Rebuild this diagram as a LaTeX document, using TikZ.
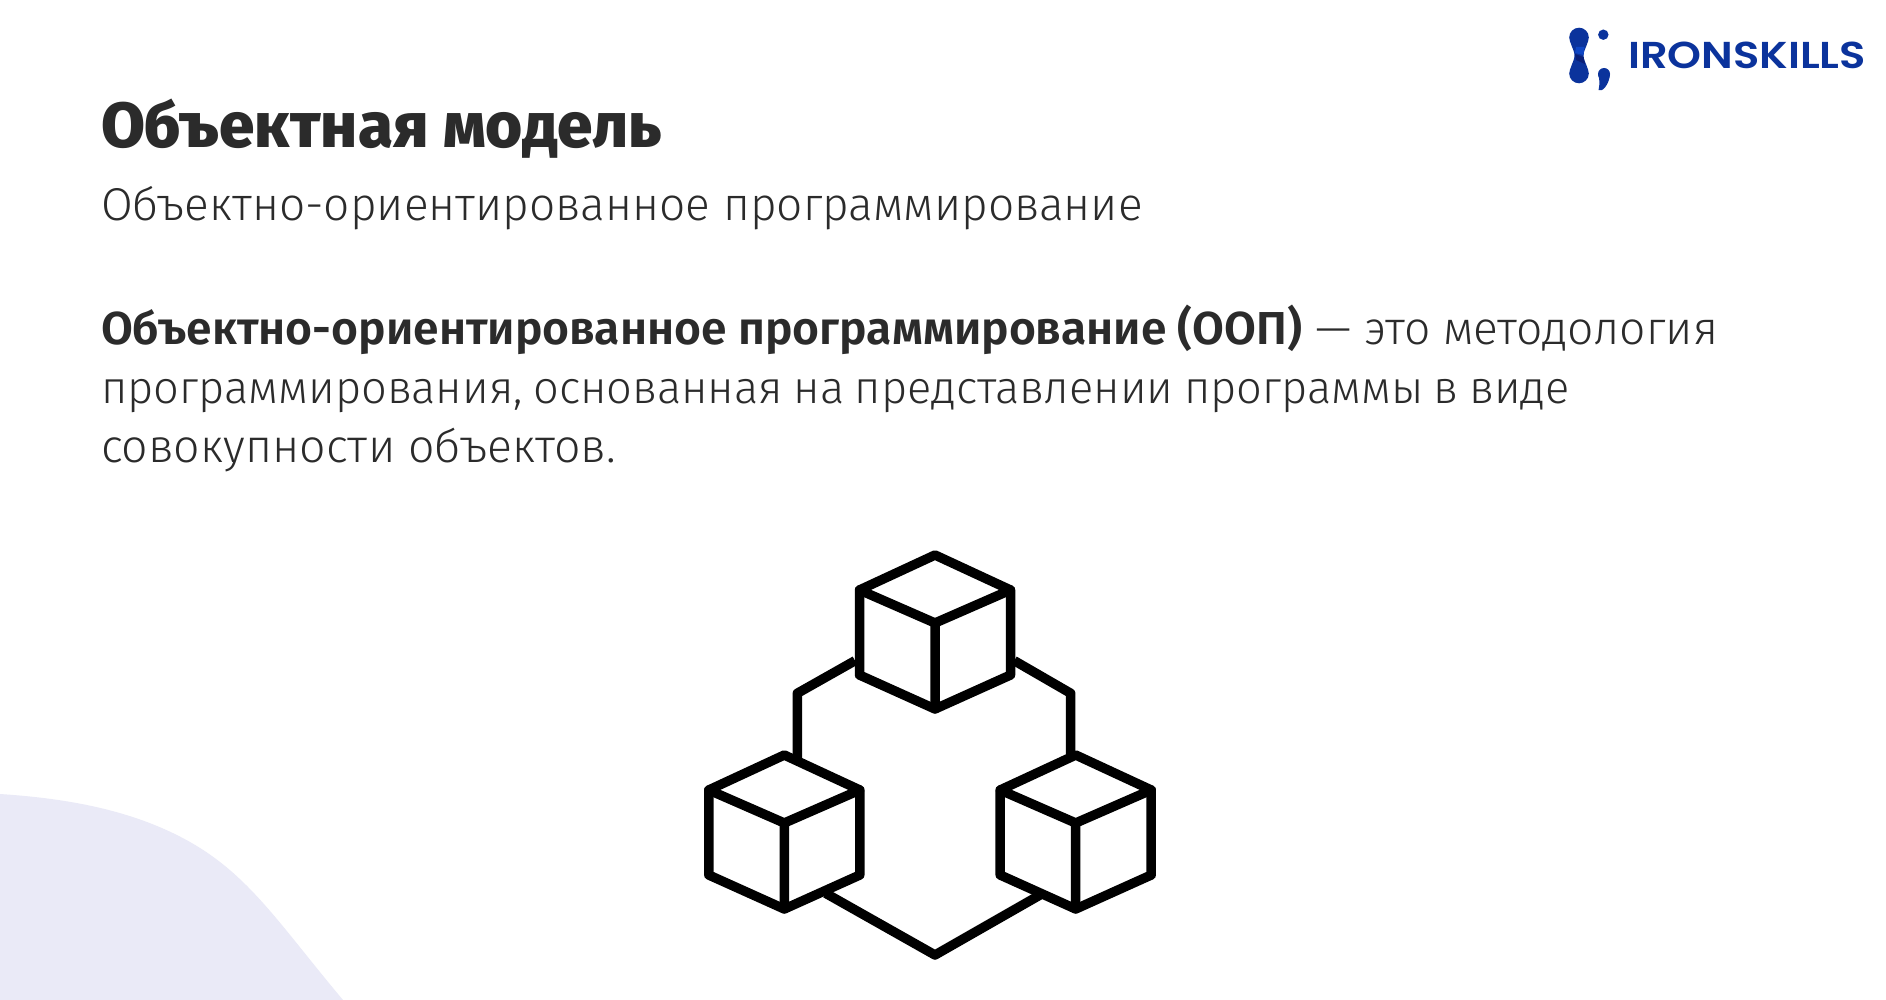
\documentclass[tikz,border=0pt]{standalone}
\usepackage{fontspec}
\setmainfont{Fira Sans Light}[BoldFont={Fira Sans SemiBold}]
\newfontfamily\titlefont{Fira Sans ExtraBold}
\newfontfamily\logofont{Poppins SemiBold}
\definecolor{ink}{HTML}{2B2B2B}
\definecolor{blobc}{HTML}{EAEAF7}
\definecolor{logoc}{HTML}{0B339C}
\definecolor{logod}{HTML}{0A1F78}
\definecolor{logob}{HTML}{0F46C4}
\tikzset{
  txt/.style={anchor=base west,inner sep=0pt,outer sep=0pt,text=ink},
  iconline/.style={draw=black,line width=9.5pt,line join=round,line cap=round},
  linkline/.style={draw=black,line width=9.5pt,line join=round,line cap=butt},
}
% #1 name prefix, #2 x of axis, #3 y of top vertex
\newcommand{\isocube}[3]{%
  \coordinate (#1t) at (#2,#3);
  \coordinate (#1l) at (#2-75.5,#3+35);
  \coordinate (#1r) at (#2+75.5,#3+35);
  \coordinate (#1c) at (#2,#3+68);
  \coordinate (#1bl) at (#2-75.5,#3+120);
  \coordinate (#1br) at (#2+75.5,#3+120);
  \coordinate (#1b) at (#2,#3+154);
  \draw[iconline] (#1t)--(#1r)--(#1br)--(#1b)--(#1bl)--(#1l)--cycle;
  \draw[iconline] (#1l)--(#1c)--(#1r) (#1c)--(#1b);
}
\begin{document}
\begin{tikzpicture}[x=1pt,y=-1pt]
\useasboundingbox (0,0) rectangle (1886,1000);
\fill[white] (0,0) rectangle (1886,1000);
\fill[blobc] (0,794) .. controls (60,798) and (130,808) .. (190,842)
  .. controls (250,876) and (280,925) .. (343,1000) -- (0,1000) -- cycle;
% logo
\fill[logoc] (1579,37.5) circle (9.8) (1579,73.5) circle (9.8);
\fill[logoc] (1570,41) .. controls (1572,48) and (1574.5,51) .. (1574.5,55.5) .. controls (1574.5,60) and (1572,63) .. (1570,70)
  -- (1588,70) .. controls (1586,63) and (1583.5,60) .. (1583.5,55.5) .. controls (1583.5,51) and (1586,48) .. (1588,41) -- cycle;
\fill[logob] (1576,47) -- (1584.5,47) -- (1583.5,55) -- (1575,53) -- cycle;
\fill[logod] (1575,54) -- (1583.5,57) -- (1585,64) -- (1576,60) -- cycle;
\fill[logoc] (1603.3,34.7) circle (5.2);
\fill[logoc] (1604,74) circle (6);
\fill[logoc] (1598.2,75) .. controls (1600,80) and (1599.5,86) .. (1598.5,90) .. controls (1602,93) and (1609.5,84) .. (1610,74) -- cycle;
\node[txt,text=logoc] (brand) at (1628,68.5) {\resizebox{238pt}{26.5pt}{\logofont\fontsize{36}{36}\selectfont IRONSKILLS}};
% texts
\node[txt] (title) at (101,148) {\titlefont\fontsize{63.7}{63.7}\selectfont Объектная модель};
\node[txt] (sub) at (101,221) {\fontsize{46}{46}\selectfont Объектно-ориентированное программирование};
\node[txt] (l1) at (101,344) {\fontsize{46.2}{46.2}\selectfont\textbf{Объектно-ориентированное программирование (ООП)} — это методология};
\node[txt] (l2) at (101,403.5) {\fontsize{45.2}{45.2}\selectfont\spaceskip=10.4pt программирования, основанная на представлении программы в виде};
\node[txt] (l3) at (101,462) {\fontsize{46.4}{46.4}\selectfont совокупности объектов.};
% connectors
\coordinate (kl1) at (855,660.7);
\coordinate (kl2) at (797.3,693.3);
\coordinate (kl3) at (797.3,758);
\coordinate (kr1) at (1014.3,660.7);
\coordinate (kr2) at (1070.7,693.3);
\coordinate (kr3) at (1070.7,756);
\coordinate (kb1) at (825.7,893.3);
\coordinate (kb2) at (935,955);
\coordinate (kb3) at (1040,895);
\draw[linkline] (kl1)--(kl2)--(kl3);
\draw[linkline] (kr1)--(kr2)--(kr3);
\draw[linkline] (kb1)--(kb2)--(kb3);
\isocube{a}{935}{555}
\isocube{b}{784.3}{755}
\isocube{c}{1075.7}{755}
\end{tikzpicture}
\end{document}
